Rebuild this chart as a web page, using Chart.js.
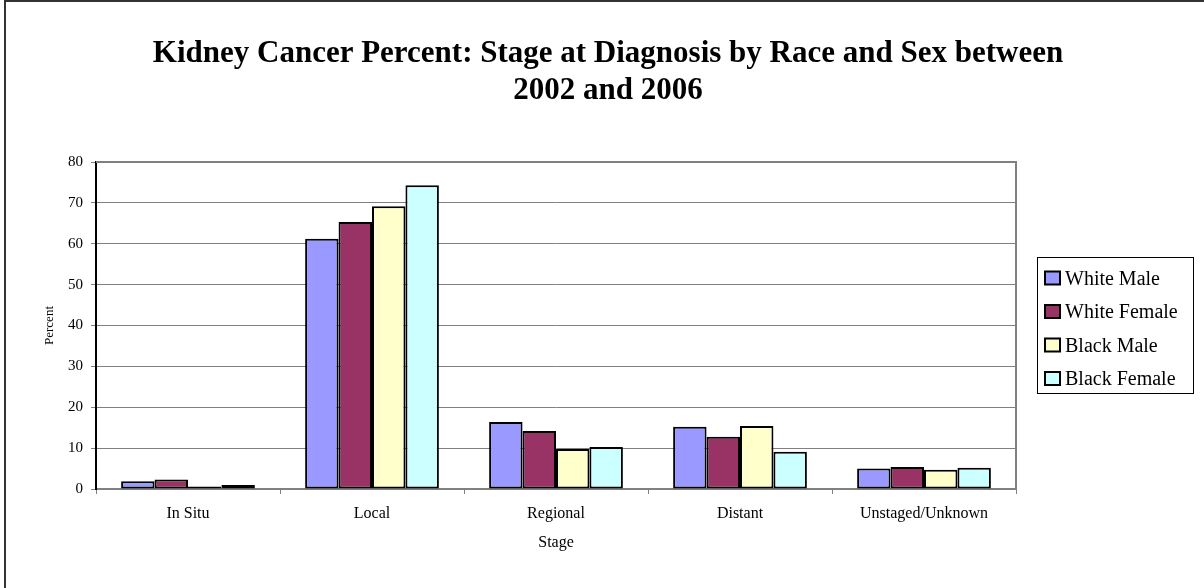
<!DOCTYPE html>
<html>
<head>
<meta charset="utf-8">
<script src="https://cdn.jsdelivr.net/npm/chart.js@4/dist/chart.umd.min.js"></script>
<style>
  html, body { margin: 0; padding: 0; background: #fff; }
  #wrap { width: 1204px; height: 588px; position: relative; }
</style>
</head>
<body>
<div id="wrap"><canvas id="c" width="1204" height="588"></canvas></div>
<script>
// Stage at diagnosis, percent of cases, 2002-2006
const stages = ['In Situ', 'Local', 'Regional', 'Distant', 'Unstaged/Unknown'];
const whiteMale   = [1.9, 61.2, 16.4, 15.2, 5.0];
const whiteFemale = [2.3, 65.3, 14.2, 12.8, 5.4];
const blackMale   = [0.6, 69.2,  9.8, 15.4, 4.7];
const blackFemale = [1.0, 74.3, 10.3,  9.1, 5.2];
const seriesNames = ['White Male', 'White Female', 'Black Male', 'Black Female'];
const seriesColors = ['#9999FF', '#993366', '#FFFFCC', '#CCFFFF'];
const yMin = 0, yMax = 80, yStep = 10;
const titleLines = ['Kidney Cancer Percent: Stage at Diagnosis by Race and Sex between', '2002 and 2006'];
const xTitle = 'Stage';
const yTitle = 'Percent';

const SERIF = '"Liberation Serif", "Times New Roman", serif';

// Title, plot frame, outer border and boxed legend
const decorations = {
  id: 'decorations',
  beforeDraw(chart) {
    const ctx = chart.ctx;
    ctx.save();
    ctx.fillStyle = '#fff';
    ctx.fillRect(0, 0, chart.width, chart.height);
    ctx.restore();
  },
  beforeDatasetsDraw(chart) {
    const ctx = chart.ctx, a = chart.chartArea;
    ctx.save();
    ctx.strokeStyle = '#808080';
    ctx.lineWidth = 2;
    ctx.beginPath();
    ctx.moveTo(a.left, a.top);
    ctx.lineTo(a.right, a.top);
    ctx.lineTo(a.right, a.bottom);
    ctx.stroke();
    ctx.restore();
  },
  afterDraw(chart) {
    const ctx = chart.ctx;
    ctx.save();
    // outer chart border (right and bottom edges fall outside the canvas)
    ctx.strokeStyle = '#333';
    ctx.lineWidth = 2;
    ctx.strokeRect(5, 1, chart.width + 10, chart.height + 10);

    // title
    ctx.fillStyle = '#000';
    ctx.font = 'bold 31px ' + SERIF;
    ctx.textAlign = 'center';
    ctx.textBaseline = 'alphabetic';
    ctx.fillText(titleLines[0], 608, 62);
    ctx.fillText(titleLines[1], 608, 98.5);

    // legend
    const lx = 1037.5, ly = 257.5, lw = 156, lh = 136;
    ctx.strokeStyle = '#000';
    ctx.lineWidth = 1;
    ctx.strokeRect(lx, ly, lw, lh);
    ctx.font = '20px ' + SERIF;
    ctx.textAlign = 'left';
    ctx.textBaseline = 'alphabetic';
    chart.data.datasets.forEach((ds, i) => {
      const base = 284.5 + i * 33.5;
      ctx.fillStyle = ds.backgroundColor;
      ctx.fillRect(1045, base - 13, 15, 13);
      ctx.lineWidth = 2;
      ctx.strokeStyle = '#000';
      ctx.strokeRect(1045, base - 13, 15, 13);
      ctx.fillStyle = '#000';
      ctx.fillText(ds.label, 1065, base);
    });
    ctx.restore();
  }
};

const values = [whiteMale, whiteFemale, blackMale, blackFemale];

new Chart(document.getElementById('c'), {
  type: 'bar',
  data: {
    labels: stages,
    datasets: values.map((v, i) => ({
      label: seriesNames[i],
      data: v,
      backgroundColor: seriesColors[i],
      borderColor: '#000',
      borderWidth: 2,
      borderSkipped: false,
      barPercentage: 1.0,
      categoryPercentage: 0.727
    }))
  },
  options: {
    responsive: false,
    animation: false,
    devicePixelRatio: 1,
    layout: { padding: { left: 26, right: 188, top: 162, bottom: 29 } },
    plugins: {
      legend: { display: false },
      title: { display: false },
      tooltip: { enabled: false }
    },
    scales: {
      x: {
        grid: { offset: true, drawOnChartArea: false, drawTicks: true, tickLength: 5, color: '#808080', lineWidth: 1 },
        border: { color: '#808080', width: 2 },
        ticks: { color: '#000', font: { family: SERIF, size: 16 }, padding: 10, maxRotation: 0, autoSkip: false },
        title: { display: true, text: xTitle, color: '#000', font: { family: SERIF, size: 16 }, padding: { top: 0, bottom: 7 } },
        afterFit(s) { s.height = 70; }
      },
      y: {
        min: yMin, max: yMax,
        grid: { color: '#808080', lineWidth: 1, tickLength: 5, drawTicks: true },
        border: { color: '#000', width: 2 },
        ticks: { stepSize: yStep, color: '#000', font: { family: SERIF, size: 15 }, padding: 8 },
        title: { display: true, text: yTitle, color: '#000', font: { family: SERIF, size: 13 }, padding: { top: 16, bottom: 0 } },
        afterFit(s) { s.width = 70; }
      }
    }
  },
  plugins: [decorations]
});
</script>
</body>
</html>
